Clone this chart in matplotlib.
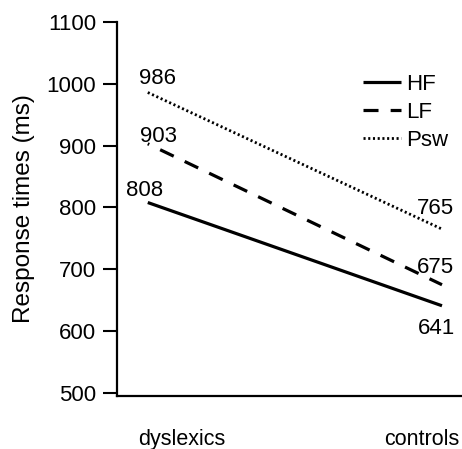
import matplotlib
matplotlib.use("Agg")
import matplotlib.pyplot as plt
from matplotlib.lines import Line2D

groups = ["dyslexics", "controls"]
series_names = ["HF", "LF", "Psw"]
hf = [808, 641]
lf = [903, 675]
psw = [986, 765]
yticks = [500, 600, 700, 800, 900, 1000, 1100]

num_font = "Liberation Sans"
fs = 16

fig = plt.figure(figsize=(4.62, 4.49), dpi=100)
ax = fig.add_axes([0.253, 0.118, 0.747, 0.833])

xs = [0, 1]
ax.plot(xs, hf, color="black", lw=2.3, solid_capstyle="butt")
ax.plot(xs, lf, color="black", lw=2.3, linestyle=(4.2, (4.7, 3.8)))
ax.plot(xs, psw, color="black", lw=2.0, dashes=(0.75, 0.95))

ax.annotate(str(psw[0]), (xs[0], psw[0]), xytext=(7, 2.5), textcoords="offset points",
            ha="center", va="bottom", fontsize=fs, family=num_font)
ax.annotate(str(lf[0]), (xs[0], lf[0]), xytext=(8, -2), textcoords="offset points",
            ha="center", va="bottom", fontsize=fs, family=num_font)
ax.annotate(str(hf[0]), (xs[0], hf[0]), xytext=(-2, 1), textcoords="offset points",
            ha="center", va="bottom", fontsize=fs, family=num_font)
ax.annotate(str(psw[1]), (xs[1], psw[1]), xytext=(-5, 7), textcoords="offset points",
            ha="center", va="bottom", fontsize=fs, family=num_font)
ax.annotate(str(lf[1]), (xs[1], lf[1]), xytext=(-5, 5), textcoords="offset points",
            ha="center", va="bottom", fontsize=fs, family=num_font)
ax.annotate(str(hf[1]), (xs[1], hf[1]), xytext=(-4, -9), textcoords="offset points",
            ha="center", va="top", fontsize=fs, family=num_font)

ax.set_xlim(-0.105, 1.068)
ax.set_ylim(495, 1100)
ax.set_yticks(yticks)
ax.set_yticklabels([str(t) for t in yticks], family=num_font, fontsize=fs)
ax.set_xticks([0.115, 0.932])
ax.set_xticklabels(groups, family="Liberation Sans", fontsize=15.5)
ax.tick_params(axis="x", length=0, pad=24)
ax.tick_params(axis="y", length=10, width=1.5, direction="out", pad=5)

for s in ["top", "right"]:
    ax.spines[s].set_visible(False)
for s in ["left", "bottom"]:
    ax.spines[s].set_linewidth(1.6)

ax.set_ylabel("Response times (ms)", family="Liberation Sans", fontsize=17.5, labelpad=8)

handles = [
    Line2D([], [], color="black", lw=2.3, solid_capstyle="butt"),
    Line2D([], [], color="black", lw=2.3, dashes=(4.7, 3.8)),
    Line2D([], [], color="black", lw=2.0, dashes=(0.75, 0.95)),
]
ax.legend(handles, series_names, loc="upper left", bbox_to_anchor=(0.712, 0.861),
          frameon=False, handlelength=1.75, handletextpad=0.2, labelspacing=0.31,
          prop={"family": num_font, "size": fs}, borderaxespad=0, borderpad=0)

fig.savefig("out.png", dpi=100)
